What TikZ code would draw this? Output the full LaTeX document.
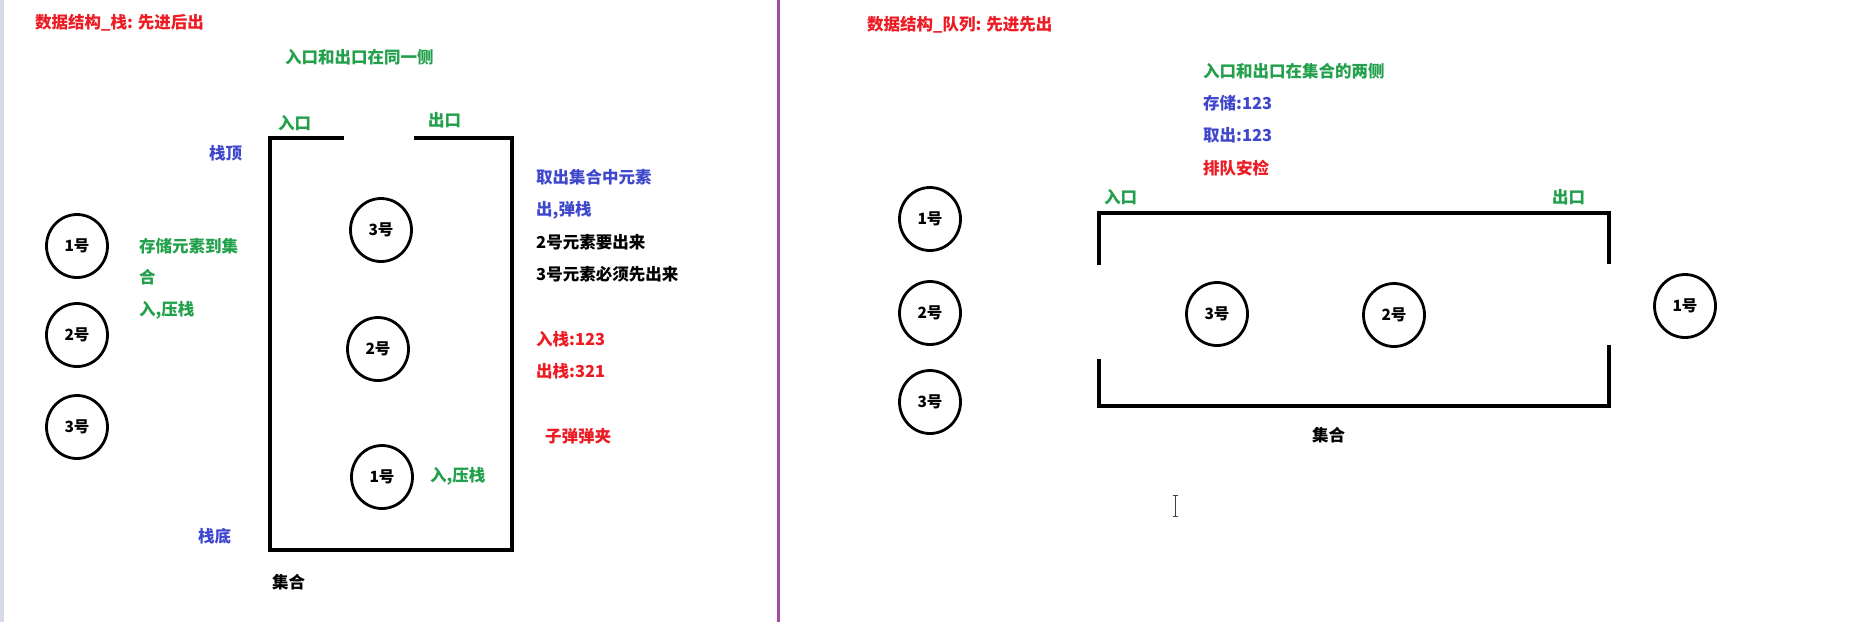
\documentclass[tikz,border=0pt]{standalone}
\usepackage{fontspec}
\newfontfamily\cjk{Noto Sans CJK SC}
\definecolor{pred}{HTML}{ED1C24}
\definecolor{pgreen}{HTML}{22A04C}
\definecolor{pblue}{HTML}{3F48CC}
\definecolor{ppurple}{HTML}{A349A4}
\definecolor{edge}{HTML}{D6DAE8}
\tikzset{
  txt/.style={font=\cjk\bfseries\fontsize{16.5}{18}\selectfont, anchor=west, inner sep=0pt},
  red/.style={txt, text=pred},
  grn/.style={txt, text=pgreen},
  blu/.style={txt, text=pblue},
  blk/.style={txt, text=black},
  ball/.style={ellipse, draw=black, line width=2.8pt, minimum width=61pt, minimum height=63pt, inner sep=0pt,
    font=\cjk\bfseries\fontsize{15.5}{17}\selectfont},
  wall/.style={line width=3.6pt, line join=miter, line cap=rect},
}
\usetikzlibrary{shapes.geometric}
\begin{document}
\begin{tikzpicture}[x=1pt, y=-1pt]
\useasboundingbox[fill=white] (0,0) rectangle (1859,622);
\fill[edge] (0,0) rectangle (4,622);
\draw[ppurple, line width=3pt] (778,0) -- (778,622);

% ---------- stack ----------
\node[red] (t1) at (35,23) {数据结构\_栈: 先进后出};
\node[grn] (s1) at (285,57) {入口和出口在同一侧};
\node[grn] (in1) at (278,123) {入口};
\node[grn] (out1) at (428,120) {出口};
\node[blu] (top) at (209,153) {栈顶};
\node[blu] (r1) at (536,177) {取出集合中元素};
\node[blu] (r2) at (536,210) {出,弹栈};
\node[blk] (r3) at (536,242) {2号元素要出来};
\node[blk] (r4) at (536,274) {3号元素必须先出来};
\node[grn] (l1) at (139,246) {存储元素到集};
\node[grn] (l2) at (139,277) {合};
\node[grn] (l3) at (139,310) {入,压栈};
\node[red] (r5) at (536,339) {入栈:123};
\node[red] (r6) at (536,371) {出栈:321};
\node[red] (r7) at (545,436) {子弹弹夹};
\node[grn] (push) at (430,476) {入,压栈};
\node[blu] (bot) at (198,536) {栈底};
\node[blk] (set1) at (272,582) {集合};

\coordinate (sa) at (342,138);
\coordinate (sb) at (270,138);
\coordinate (sc) at (270,550);
\coordinate (sd) at (512,550);
\coordinate (se) at (512,138);
\coordinate (sf) at (416,138);
\draw[wall] (sa) -- (sb) -- (sc) -- (sd) -- (se) -- (sf);

\node[ball] (a1) at (77,246) {1号};
\node[ball] (a2) at (77,335) {2号};
\node[ball] (a3) at (77,427) {3号};
\node[ball] (b3) at (381,230) {3号};
\node[ball] (b2) at (378,349) {2号};
\node[ball] (b1) at (382,477) {1号};

% ---------- queue ----------
\node[red] (t2) at (867,25) {数据结构\_队列: 先进先出};
\node[grn] (q1) at (1203,71) {入口和出口在集合的两侧};
\node[blu] (q2) at (1203,103) {存储:123};
\node[blu] (q3) at (1203,135) {取出:123};
\node[red] (q4) at (1203,168) {排队安检};
\node[grn] (in2) at (1104,197) {入口};
\node[grn] (out2) at (1552,197) {出口};
\node[blk] (set2) at (1312,435) {集合};

\coordinate (qa) at (1099,263);
\coordinate (qb) at (1099,213);
\coordinate (qc) at (1609,213);
\coordinate (qd) at (1609,262);
\coordinate (qe) at (1099,361);
\coordinate (qf) at (1099,406);
\coordinate (qg) at (1609,406);
\coordinate (qh) at (1609,347);
\draw[wall] (qa) -- (qb) -- (qc) -- (qd);
\draw[wall] (qe) -- (qf) -- (qg) -- (qh);

\node[ball] (c1) at (930,219) {1号};
\node[ball] (c2) at (930,313) {2号};
\node[ball] (c3) at (930,402) {3号};
\node[ball] (d3) at (1217,314) {3号};
\node[ball] (d2) at (1394,315) {2号};
\node[ball] (d1) at (1685,306) {1号};

% text cursor
\coordinate (cu) at (1175,495);
\coordinate (cd) at (1175,516);
\draw[black!75, line width=1pt] (cu) -- (cd)
  ([xshift=-2.5pt]cu) -- ([xshift=2.5pt]cu)
  ([xshift=-2.5pt]cd) -- ([xshift=2.5pt]cd);
\end{tikzpicture}
\end{document}
